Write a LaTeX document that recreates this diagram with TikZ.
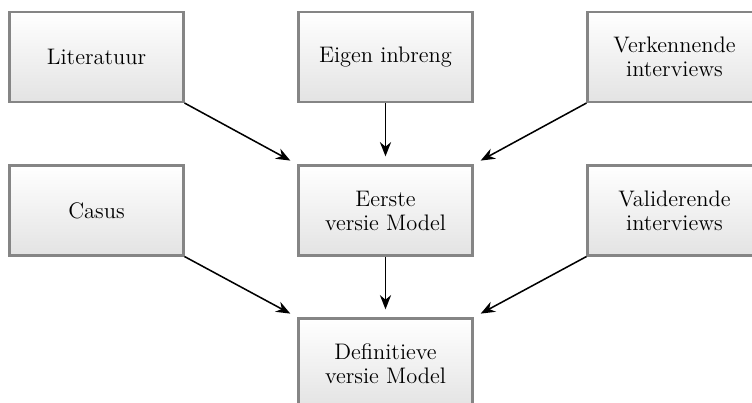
\documentclass[tikz,border=0pt]{standalone}
\usetikzlibrary{arrows.meta}
\begin{document}
\begin{tikzpicture}[x=0.49pt,y=-0.49pt,
  blok/.style={draw=black!48, line width=1pt, top color=white, bottom color=black!11,
    minimum width=174*0.49pt, minimum height=90*0.49pt, align=center, inner sep=2pt,
    font=\fontsize{11}{11.8}\selectfont},
  pijl/.style={-{Stealth[length=7pt,width=5.5pt]}, line width=0.75pt, shorten >=4pt}]
\useasboundingbox (0,0) rectangle (752,402);
% bovenste rij: bronnen
\node[blok] (lit) at (96.5,57) {Literatuur};
\node[blok] (eigen) at (385.5,57) {Eigen inbreng};
\node[blok] (verk) at (674.5,57) {Verkennende\\interviews};
% middelste rij
\node[blok] (casus) at (96.5,210.5) {Casus};
\node[blok] (eerste) at (385.5,210.5) {Eerste\\versie Model};
\node[blok] (valid) at (674.5,210.5) {Validerende\\interviews};
% onderste rij
\node[blok] (def) at (385.5,363.5) {Definitieve\\versie Model};
% verbindingen
\draw[pijl] (lit.south east) -- (eerste.north west);
\draw[pijl] (eigen.south) -- (eerste.north);
\draw[pijl] (verk.south west) -- (eerste.north east);
\draw[pijl] (casus.south east) -- (def.north west);
\draw[pijl] (eerste.south) -- (def.north);
\draw[pijl] (valid.south west) -- (def.north east);
\end{tikzpicture}
\end{document}
